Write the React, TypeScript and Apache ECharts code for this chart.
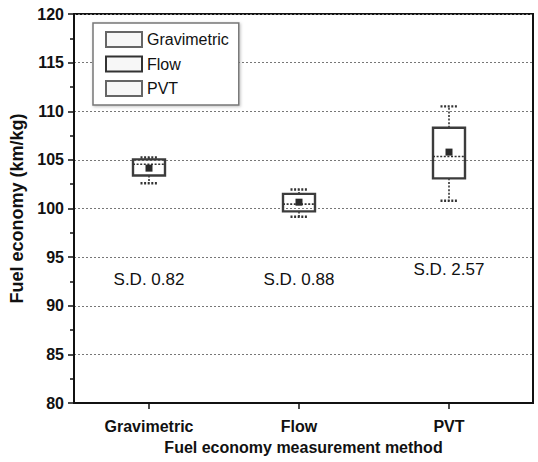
import React, { useEffect, useRef } from "react";
import * as echarts from "echarts";

const categories = ["Gravimetric", "Flow", "PVT"];
const minValues = [102.6, 99.15, 100.8];
const q1Values = [103.4, 99.7, 103.1];
const medianValues = [104.55, 100.45, 105.35];
const q3Values = [105.05, 101.5, 108.3];
const maxValues = [105.25, 101.95, 110.5];
const meanValues = [104.15, 100.65, 105.8];
const sdValues = ["0.82", "0.88", "2.57"];
const sdLabelY = [92.65, 92.65, 93.7];
const yTicks = { min: 80, max: 120, interval: 5 };

const FONT = "'Liberation Sans', Arial, sans-serif";

export default function App() {
  const ref = useRef<HTMLDivElement>(null);
  useEffect(() => {
    if (!ref.current) return;
    const chart = echarts.init(ref.current, null, { renderer: "svg" });

    const boxStroke = "#3c3c3c";
    const renderItem = (params: any, api: any) => {
      const x = api.value(0);
      const pMin = api.coord([x, api.value(1)]);
      const pQ1 = api.coord([x, api.value(2)]);
      const pMed = api.coord([x, api.value(3)]);
      const pQ3 = api.coord([x, api.value(4)]);
      const pMax = api.coord([x, api.value(5)]);
      const pMean = api.coord([x, api.value(6)]);
      const cx = pMed[0];
      const hw = 16;
      const cap = 8.5;
      const dotted = { stroke: "#333", lineWidth: 1.6, lineDash: [2, 1.6] };
      return {
        type: "group",
        children: [
          { type: "line", shape: { x1: cx, y1: pQ3[1], x2: cx, y2: pMax[1] }, style: dotted },
          { type: "line", shape: { x1: cx, y1: pQ1[1], x2: cx, y2: pMin[1] }, style: dotted },
          { type: "line", shape: { x1: cx - cap, y1: pMax[1], x2: cx + cap, y2: pMax[1] }, style: { ...dotted, lineWidth: 2.4 } },
          { type: "line", shape: { x1: cx - cap, y1: pMin[1], x2: cx + cap, y2: pMin[1] }, style: { ...dotted, lineWidth: 2.4 } },
          {
            type: "rect",
            shape: { x: cx - hw, y: pQ3[1], width: hw * 2, height: pQ1[1] - pQ3[1] },
            style: { fill: "none", stroke: boxStroke, lineWidth: 2.4 },
          },
          { type: "line", shape: { x1: cx - hw, y1: pMed[1], x2: cx + hw, y2: pMed[1] }, style: dotted },
          {
            type: "rect",
            shape: { x: cx - 3.5, y: pMean[1] - 3.5, width: 7, height: 7 },
            style: { fill: "#2a2a2a" },
          },
        ],
      };
    };

    const boxSeries = categories.map((name, i) => ({
      name,
      type: "custom",
      renderItem,
      itemStyle: { color: "#fff", borderColor: "#555", borderWidth: 2 },
      encode: { x: 0, y: [1, 2, 3, 4, 5] },
      data: [[i + 1, minValues[i], q1Values[i], medianValues[i], q3Values[i], maxValues[i], meanValues[i]]],
      z: 3,
    }));

    chart.setOption({
      animation: false,
      backgroundColor: "#fff",
      textStyle: { fontFamily: FONT },
      grid: {
        left: 74,
        right: 5,
        top: 14,
        bottom: 59,
        show: true,
        borderColor: "#111",
        borderWidth: 2,
        backgroundColor: "transparent",
      },
      legend: {
        orient: "vertical",
        left: 93,
        top: 23,
        padding: [8, 10, 8, 12],
        itemWidth: 36,
        itemHeight: 15,
        itemGap: 7.5,
        icon: "rect",
        backgroundColor: "#fff",
        borderColor: "#777",
        borderWidth: 1.5,
        shadowColor: "rgba(0,0,0,0.25)",
        shadowBlur: 3,
        shadowOffsetX: 1,
        shadowOffsetY: 1,
        textStyle: { fontFamily: FONT, fontSize: 16, color: "#111", padding: [0, 0, 0, 0] },
        data: categories.map((name, i) => ({
          name,
          itemStyle: { color: "#f7f7f7", borderColor: i === 1 ? "#333" : "#666", borderWidth: 2 },
        })),
      },
      xAxis: {
        type: "value",
        min: 0.5,
        max: 3.56,
        name: "Fuel economy measurement method",
        nameLocation: "middle",
        nameGap: 36,
        nameTextStyle: { fontFamily: FONT, fontSize: 16, fontWeight: "bold", color: "#111" },
        axisLine: { show: true, lineStyle: { color: "#111", width: 2 } },
        axisTick: { show: true, customValues: [1, 2, 3], length: 6, lineStyle: { color: "#111", width: 1.5 } },
        axisLabel: {
          customValues: [1, 2, 3],
          margin: 15,
          fontFamily: FONT,
          fontSize: 16,
          fontWeight: "bold",
          color: "#111",
          formatter: (v: number) => categories[Math.round(v) - 1] ?? "",
        },
        splitLine: { show: false },
      },
      yAxis: {
        type: "value",
        min: yTicks.min,
        max: yTicks.max,
        interval: yTicks.interval,
        name: "Fuel economy (km/kg)",
        nameLocation: "middle",
        nameGap: 44,
        nameTextStyle: { fontFamily: FONT, fontSize: 18, fontWeight: "bold", color: "#111" },
        axisLine: { show: true, lineStyle: { color: "#111", width: 2 } },
        axisTick: { show: true, length: 6, lineStyle: { color: "#111", width: 1.5 } },
        minorTick: { show: true, splitNumber: 2, length: 4, lineStyle: { color: "#111", width: 1.5 } },
        axisLabel: { margin: 10, fontFamily: FONT, fontSize: 16, fontWeight: "bold", color: "#111" },
        splitLine: { show: true, lineStyle: { color: "#777", width: 1, type: [2, 2] } },
      },
      series: [
        ...boxSeries,
        {
          name: "SD",
          type: "scatter",
          symbolSize: 1,
          itemStyle: { color: "rgba(0,0,0,0)" },
          emphasis: { disabled: true },
          label: {
            show: true,
            position: "inside",
            fontFamily: FONT,
            fontSize: 17,
            color: "#111",
            opacity: 1,
            formatter: (p: any) => "S.D. " + p.value[2],
          },
          data: categories.map((_, i) => [i + 1, sdLabelY[i], sdValues[i]]),
          z: 4,
        },
      ],
    });
    return () => chart.dispose();
  }, []);
  return <div ref={ref} style={{ width: 538, height: 462, position: "absolute", left: 0, top: 0 }} />;
}
